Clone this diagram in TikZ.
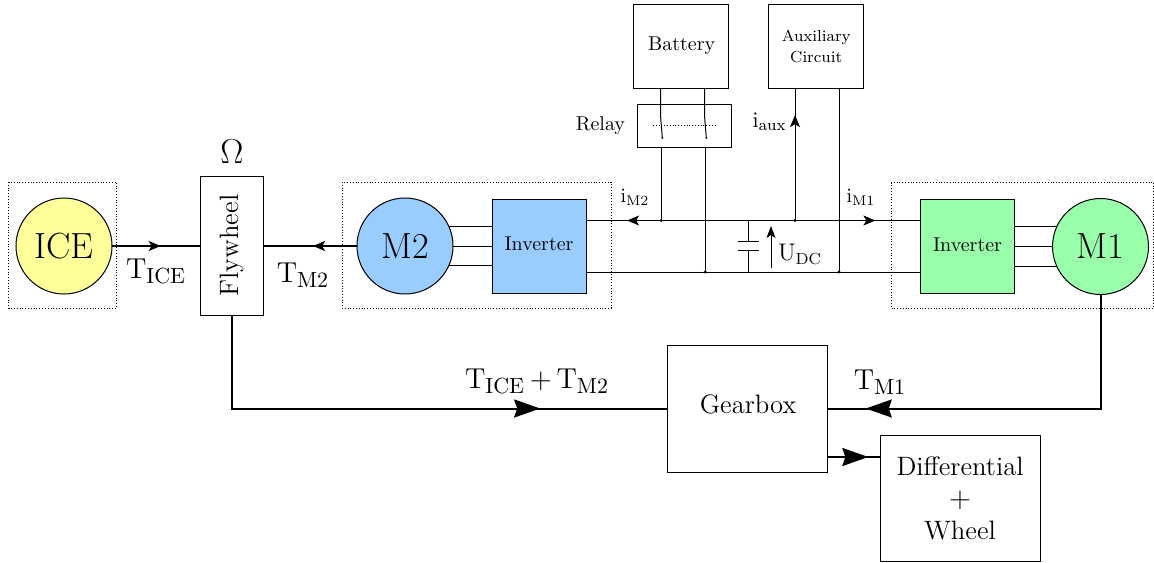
\documentclass[tikz,border=0pt]{standalone}
\usepackage{amsmath}
\usetikzlibrary{positioning,arrows.meta,decorations.markings}

\definecolor{iceyellow}{HTML}{FFFF99}
\definecolor{mtwoblue}{HTML}{99CCFF}
\definecolor{moneGreen}{HTML}{99FFAA}

\tikzset{
  every node/.style={outer sep=0pt, inner sep=0pt},
  machine/.style={draw, circle, line width=0.5pt, minimum size=48pt, font=\fontsize{18.2}{20}\selectfont},
  block/.style={draw, rectangle, line width=0.5pt, align=center},
  invbox/.style={block, minimum width=47pt, minimum height=47pt, text depth=2pt},
  grid/.style={line width=0.5pt},
  shaft/.style={line width=1pt},
  groupbox/.style={densely dotted, line width=0.4pt},
  tip/.style n args={3}{postaction={decorate}, decoration={markings,
      mark=at position #1 with {\arrow{Stealth[length=#2, width=#3, inset=1.5pt]}}}},
  dot/.style={circle, fill, minimum size=1.6pt},
  torque/.style={font=\fontsize{15.5}{18}\selectfont},
  bigtext/.style={font=\fontsize{13.3}{16}\selectfont}
}

\begin{document}
\begin{tikzpicture}[x=0.5pt, y=-0.5pt]
  \useasboundingbox (0,0) rectangle (1154,562);
  % Dotted groups
  \draw[groupbox] (8.5,182) rectangle (116.5,308);
  \draw[groupbox] (342,182) rectangle (611,308);
  \draw[groupbox] (891,182) -- (1153.5,182) -- (1153.5,308) -- (891,308) -- cycle;
  % Define nodes
  \node[machine, fill=iceyellow] (ice) at (64,246) {ICE};
  \node[block, bigtext, minimum width=31.5pt, minimum height=69.5pt, right=44.25pt of ice, yshift=0.25pt] (fly) {\rotatebox{90}{Flywheel}};
  \node[machine, fill=mtwoblue, right=46.75pt of fly, yshift=-0.25pt] (m2) {M2};
  \node[invbox, fill=mtwoblue, right=19.5pt of m2] (invb) {Inverter};
  \node[machine, fill=moneGreen] (m1) at (1100.5,246.5) {M1};
  \node[invbox, fill=moneGreen, left=19pt of m1] (invg) {Inverter};
  \node[block, minimum width=47.5pt, minimum height=42pt] (bat) at (680.7,46.2) {\hspace*{1pt}Battery};
  \node[block, minimum width=47.5pt, minimum height=42pt, right=20.25pt of bat, font=\footnotesize] (aux) {Auxiliary\\[1pt]Circuit};
  \node[block, minimum width=47pt, minimum height=21.5pt] (rel) at (684,125.5) {};
  \node[left=6pt of rel] (rellab) {Relay};
  \node[block, bigtext, minimum width=80pt, minimum height=63.5pt, text depth=4.5pt] (gear) at (747,408.5) {\hspace*{1pt}Gearbox};
  \node[block, bigtext, minimum width=80pt, minimum height=63pt, right=26.5pt of gear, yshift=-44.75pt] (diff) {Differential\\$+$\\Wheel};
  \coordinate (topbus) at (0,220.5);
  \coordinate (botbus) at (0,272);
  % Connect shafts
  \draw[shaft, tip={0.55}{6pt}{5pt}] (ice) -- (fly.west |- ice.east);
  \draw[shaft, tip={0.47}{6pt}{5pt}] (m2) -- (fly.east |- m2.west);
  \draw[shaft, tip={0.76}{13pt}{9pt}] (fly.south) |- (gear.west);
  \draw[shaft, tip={0.90}{13pt}{9pt}] (m1.south) |- (gear.east);
  \coordinate (gearout) at (gear.east |- 0,457);
  \draw[shaft, tip={0.78}{13pt}{9pt}] (gearout) -- (diff.west |- gearout);
  % Three phase lines
  \foreach \ang in {24,0,-24} {
    \draw[grid] (m2.\ang) -- (invb.west |- m2.\ang);
    \draw[grid] (m1.180-\ang) -- (invg.east |- m1.180-\ang);
  }
  % DC bus
  \draw[grid, tip={0.877}{6pt}{5pt}] (invg.west |- topbus) -- (invb.east |- topbus);
  \draw[grid, tip={0.865}{6pt}{5pt}] (invb.east |- topbus) -- (invg.west |- topbus);
  \draw[grid] (invb.east |- botbus) -- (invg.west |- botbus);
  % Battery and relay
  \coordinate (batl) at (660.7,88);
  \coordinate (batr) at (704.7,88);
  \coordinate (batlbend) at (660.7,118);
  \coordinate (batrbend) at (704.7,118);
  \coordinate (batlsw) at (662.3,138);
  \coordinate (batrsw) at (706.3,138);
  \coordinate (batlout) at (661.3,147);
  \coordinate (batrout) at (705.3,147);
  \draw[grid] (batl) -- (batlbend) -- (batlsw) node[dot, minimum size=1pt] (swl) {};
  \draw[grid] (batr) -- (batrbend) -- (batrsw) node[dot, minimum size=1pt] (swr) {};
  \draw[grid] (batlout) -- (batlout |- topbus) node[dot] (dotl) {};
  \draw[grid] (batrout) -- (batrout |- botbus) node[dot] (dotr) {};
  \draw[densely dotted, line width=0.4pt] (653,125.5) -- (717,125.5);
  % Auxiliary circuit
  \coordinate (auxl) at (795,88);
  \coordinate (auxr) at (839,88);
  \draw[grid, tip={0.795}{6pt}{5pt}] (auxl |- topbus) node[dot] (dota) {} -- (auxl);
  \draw[grid] (auxr) -- (auxr |- botbus) node[dot] (dotb) {};
  % Capacitor
  \coordinate (capa) at (748,241.7);
  \coordinate (capb) at (748,250);
  \coordinate (capal) at (737.5,241.7);
  \coordinate (capar) at (759,241.7);
  \coordinate (capbl) at (737.5,250);
  \coordinate (capbr) at (759,250);
  \draw[grid] (capa |- topbus) -- (capa);
  \draw[grid] (capb) -- (capb |- botbus);
  \draw[grid] (capal) -- (capar);
  \draw[grid] (capbl) -- (capbr);
  \coordinate (ulow) at (771,268);
  \coordinate (uhigh) at (771,226);
  \draw[line width=0.4pt, -{Stealth[length=6pt, width=4.5pt, inset=1.5pt]}] (ulow) -- (uhigh);
  % Labels
  \node[font=\fontsize{16.5}{18}\selectfont] (lomega) at (232,152) {$\Omega$};
  \node[torque] (ltice) at (156,271) {$\mathrm{T_{ICE}}$};
  \node[torque] (ltm2) at (303,275) {$\mathrm{T_{M2}}$};
  \node[torque] (ltsum) at (537,381) {$\mathrm{T_{ICE}}{\,+\,}\mathrm{T_{M2}}$};
  \node[torque] (ltm1) at (880,382) {$\mathrm{T_{M1}}$};
  \node (lim2) at (635,197) {$\mathrm{i_{M2}}$};
  \node (lim1) at (861,197) {$\mathrm{i_{M1}}$};
  \node[font=\fontsize{10.8}{12}\selectfont] (liaux) at (769.5,122) {$\mathrm{i_{aux}}$};
  \node[font=\fontsize{11.5}{13}\selectfont] (ludc) at (800,254) {$\mathrm{U_{DC}}$};
\end{tikzpicture}
\end{document}
